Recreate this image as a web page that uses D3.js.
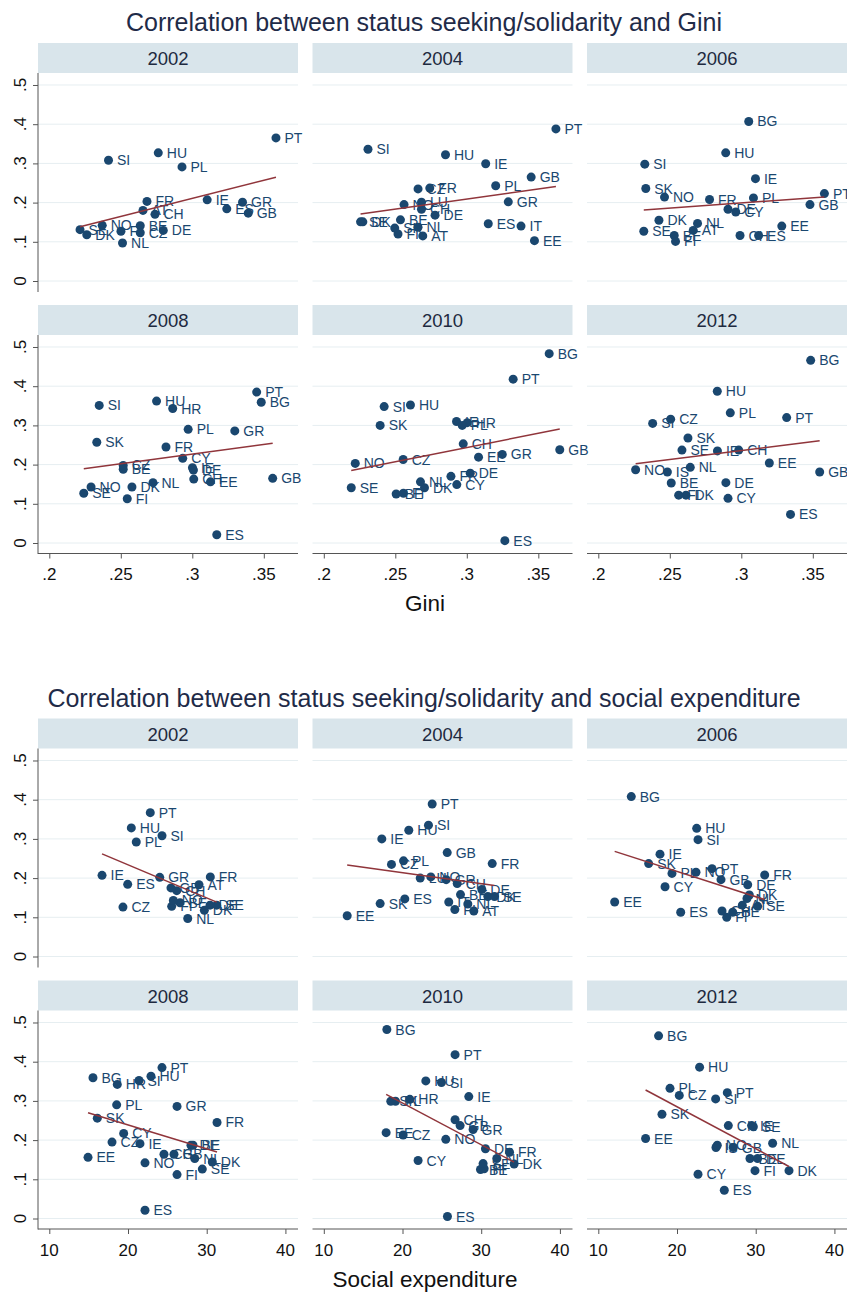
<!DOCTYPE html>
<html><head><meta charset="utf-8">
<script src="https://cdn.jsdelivr.net/npm/d3@7"></script>
<style>
body{margin:0;background:#fff}
text{font-family:"Liberation Sans",Arial,Helvetica,sans-serif}
</style>
</head><body>
<svg id="chart" width="847" height="1293"></svg>
<script>
// ---------- data ----------
const years = ["2002", "2004", "2006", "2008", "2010", "2012"];
const yTicks = [0, 0.1, 0.2, 0.3, 0.4, 0.5];
const yTickLabels = ["0", ".1", ".2", ".3", ".4", ".5"];
const giniTicks = [0.2, 0.25, 0.3, 0.35];
const giniTickLabels = [".2", ".25", ".3", ".35"];
const socxTicks = [10, 20, 30, 40];
const socxTickLabels = ["10", "20", "30", "40"];

// [country, Gini, status seeking/solidarity]
const gini2002 = [["PT",.3585,.365],["HU",.2762,.327],["SI",.2414,.308],["PL",.2928,.291],["FR",.2683,.203],
  ["IE",.3104,.207],["GR",.3351,.201],["ES",.3241,.184],["GB",.3391,.173],["AT",.2655,.180],["CH",.2739,.170],
  ["NO",.2370,.142],["SE",.2215,.131],["DK",.2262,.118],["FI",.2501,.127],["BE",.2636,.141],["CZ",.2636,.123],
  ["DE",.2797,.129],["NL",.2512,.097]];
const gini2004 = [["PT",.3623,.388],["SI",.2309,.336],["HU",.2851,.322],["IE",.3132,.299],["GB",.3450,.265],
  ["PL",.3202,.243],["CZ",.2659,.235],["FR",.2741,.237],["GR",.3290,.202],["NO",.2561,.195],["LU",.2683,.201],
  ["CH",.2683,.183],["DE",.2778,.168],["BE",.2536,.156],["SE",.2257,.151],["DK",.2273,.151],["ES",.3150,.146],
  ["IT",.3379,.140],["EE",.3473,.103],["SK",.2496,.135],["FI",.2519,.120],["NL",.2659,.137],["AT",.2692,.115]];
const gini2006 = [["BG",.3052,.407],["HU",.2891,.327],["SI",.2325,.298],["IE",.3099,.261],["SK",.2332,.236],
  ["NO",.2463,.214],["FR",.2778,.208],["PL",.3085,.212],["PT",.3581,.223],["GB",.3480,.195],["DE",.2907,.183],
  ["CY",.2961,.176],["DK",.2424,.155],["NL",.2694,.147],["SE",.2318,.127],["AT",.2664,.129],["EE",.3283,.140],
  ["BE",.2531,.116],["FI",.2540,.101],["CH",.2991,.116],["ES",.3121,.116]];
const gini2008 = [["PT",.3450,.385],["BG",.3482,.359],["SI",.2349,.351],["HU",.2750,.362],["HR",.2863,.343],
  ["PL",.2971,.290],["GR",.3297,.286],["SK",.2332,.257],["FR",.2816,.245],["CY",.2933,.216],["CZ",.2517,.198],
  ["BE",.2517,.188],["IE",.3001,.192],["DE",.3008,.186],["CH",.3010,.163],["EE",.3127,.156],["GB",.3562,.165],
  ["NL",.2725,.154],["NO",.2292,.143],["DK",.2578,.143],["SE",.2241,.127],["FI",.2545,.113],["ES",.3171,.021]];
const gini2010 = [["BG",.3576,.483],["PT",.3324,.418],["SI",.2422,.348],["HU",.2606,.352],["IE",.2928,.310],
  ["PL",.2968,.300],["HR",.3003,.307],["SK",.2394,.300],["CH",.2975,.253],["GR",.3248,.226],["EE",.3082,.219],
  ["GB",.3650,.238],["CZ",.2555,.213],["NO",.2220,.203],["DE",.3024,.178],["FR",.2889,.170],["CY",.2930,.149],
  ["NL",.2676,.156],["DK",.2704,.141],["SE",.2192,.141],["BE",.2506,.125],["FI",.2557,.127],["ES",.3266,.006]];
const gini2012 = [["BG",.3485,.466],["HU",.2832,.387],["PL",.2923,.332],["PT",.3317,.320],["CZ",.2506,.316],
  ["SI",.2380,.305],["SK",.2627,.268],["SE",.2585,.237],["IE",.2833,.235],["CH",.2982,.237],["EE",.3196,.204],
  ["NO",.2261,.187],["IS",.2483,.181],["NL",.2643,.193],["GB",.3548,.181],["BE",.2510,.153],["DE",.2892,.154],
  ["FI",.2562,.122],["DK",.2613,.122],["CY",.2907,.114],["ES",.3344,.073]];

// [country, social expenditure, status seeking/solidarity]
const socx2002 = [["PT",22.83,.367],["HU",20.42,.328],["SI",24.32,.308],["PL",21.05,.292],["IE",16.70,.207],
  ["FR",30.46,.203],["GR",24.03,.202],["ES",19.96,.184],["AT",29.02,.183],["GB",25.46,.175],["CH",26.19,.168],
  ["NO",25.76,.143],["BE",26.61,.137],["FI",25.55,.128],["CZ",19.36,.126],["NL",27.59,.097],["DK",29.70,.118],
  ["DE",30.42,.131],["SE",31.27,.131]];
const socx2004 = [["PT",23.77,.389],["SI",23.30,.335],["HU",20.80,.322],["IE",17.37,.300],["GB",25.68,.265],
  ["FR",31.40,.237],["PL",20.13,.244],["CZ",18.60,.235],["LU",22.25,.200],["NO",23.60,.203],["GR",25.55,.196],
  ["CH",26.95,.186],["DE",30.08,.171],["BE",27.37,.158],["DK",30.84,.153],["SE",31.69,.153],["ES",20.29,.147],
  ["EE",12.97,.104],["IT",25.88,.139],["NL",28.30,.134],["FI",26.65,.120],["AT",29.06,.116],["SK",17.16,.135]];
const socx2006 = [["BG",14.19,.408],["HU",22.50,.327],["SI",22.67,.298],["IE",17.84,.261],["SK",16.40,.237],
  ["PT",24.45,.224],["NO",22.41,.215],["PL",19.36,.212],["FR",31.14,.208],["GB",25.59,.196],["DE",28.98,.183],
  ["CY",18.48,.178],["EE",12.08,.139],["ES",20.47,.113],["DK",29.19,.157],["NL",28.89,.148],["AT",28.30,.131],
  ["SE",30.25,.128],["CH",25.72,.116],["BE",27.08,.113],["FI",26.32,.100]];
const socx2008 = [["PT",24.32,.385],["BG",15.55,.359],["HU",22.92,.363],["SI",21.40,.352],["HR",18.64,.342],
  ["PL",18.56,.290],["GR",26.23,.286],["SK",16.10,.256],["FR",31.31,.245],["CY",19.45,.217],["CZ",17.97,.195],
  ["IE",21.52,.191],["DE",28.00,.187],["BE",28.26,.187],["EE",14.92,.156],["CH",24.57,.164],["GB",25.84,.164],
  ["NL",28.48,.153],["NO",22.16,.142],["DK",30.71,.144],["SE",29.44,.126],["FI",26.23,.112],["ES",22.16,.021]];
const socx2010 = [["BG",18.01,.482],["PT",26.68,.418],["HU",22.96,.351],["SI",24.95,.347],["IE",28.42,.311],
  ["SK",18.51,.299],["PL",19.11,.299],["HR",20.93,.304],["CH",26.68,.252],["GB",27.32,.237],["GR",28.97,.227],
  ["EE",17.92,.219],["CZ",20.08,.213],["NO",25.50,.202],["DE",30.54,.178],["FR",33.60,.169],["NL",31.98,.153],
  ["DK",34.18,.139],["CY",21.98,.148],["SE",30.24,.140],["BE",29.91,.125],["FI",30.37,.127],["ES",25.71,.005]];
const socx2012 = [["BG",17.66,.466],["HU",22.87,.386],["PL",19.11,.332],["PT",26.39,.321],["CZ",20.29,.314],
  ["SI",24.91,.305],["SK",18.09,.266],["CH",26.52,.237],["IE",29.48,.237],["SE",29.70,.234],["NL",32.15,.192],
  ["EE",16.01,.204],["NO",25.12,.187],["IS",24.95,.181],["GB",27.15,.181],["BE",29.27,.153],["DE",30.24,.153],
  ["FI",29.91,.122],["DK",34.23,.122],["CY",22.67,.113],["ES",26.01,.072]];

const giniPanels = [gini2002, gini2004, gini2006, gini2008, gini2010, gini2012];
const socxPanels = [socx2002, socx2004, socx2006, socx2008, socx2010, socx2012];

// ---------- style ----------
const NAVY = "#1a476f", MAROON = "#90353b", STRIP = "#d9e5eb", GRID = "#e6eef1";
const svg = d3.select("#chart");

function fit(data) {
  const mx = d3.mean(data, d => d[1]), my = d3.mean(data, d => d[2]);
  let sxy = 0, sxx = 0;
  data.forEach(d => { sxy += (d[1]-mx)*(d[2]-my); sxx += (d[1]-mx)*(d[1]-mx); });
  const b = sxy / sxx, a = my - b*mx;
  const x0 = d3.min(data, d => d[1]), x1 = d3.max(data, d => d[1]);
  return [[x0, a + b*x0], [x1, a + b*x1]];
}

function drawFigure(offY, title, panels, xDomain, xTicks, xTickLabels, xTitle) {
  const g = svg.append("g").attr("transform", `translate(0,${offY})`);
  g.append("text").attr("x", 424).attr("y", 31).attr("text-anchor", "middle")
    .attr("font-size", 25).attr("fill", "#1f2b48").text(title);

  const W = 260, H = 218, headH = 30;
  const headTops = [43, 305];
  panels.forEach((data, i) => {
    const c = i % 3, r = Math.floor(i / 3);
    const left = 38 + 274.5 * c;
    const headTop = headTops[r];
    const top = headTop + headH;
    const x = d3.scaleLinear().domain(xDomain).range([left, left + W]);
    const y = d3.scaleLinear().domain([-0.0255, 0.5306]).range([top + H, top]);

    // strip
    g.append("rect").attr("x", left).attr("y", headTop).attr("width", W).attr("height", headH).attr("fill", STRIP);
    g.append("text").attr("x", left + W/2).attr("y", headTop + 22).attr("text-anchor", "middle")
      .attr("font-size", 18.5).attr("fill", "#1e2a40").text(years[i]);

    // grid
    g.append("g").selectAll("line").data(yTicks).join("line")
      .attr("x1", left).attr("x2", left + W)
      .attr("y1", d => y(d)).attr("y2", d => y(d))
      .attr("stroke", GRID).attr("stroke-width", 1);

    // y axis (first column only)
    if (c === 0) {
      const ya = g.append("g").attr("transform", `translate(${left},0)`)
        .call(d3.axisLeft(y).tickValues(yTicks).tickSize(5).tickFormat(() => ""));
      ya.select(".domain").attr("d", `M0,${top}V${top + H + 1}`).attr("stroke", "#555");
      ya.selectAll(".tick line").attr("stroke", "#555");
      g.append("g").selectAll("text").data(yTicks).join("text")
        .attr("transform", d => `translate(${left - 12},${y(d)}) rotate(-90)`)
        .attr("text-anchor", "middle").attr("font-size", 17).attr("fill", "#111")
        .text((d, k) => yTickLabels[k]);
    }
    // x axis (bottom row only)
    if (r === 1) {
      const xa = g.append("g").attr("transform", `translate(0,${top + H + 0.5})`)
        .call(d3.axisBottom(x).tickValues(xTicks).tickSize(5).tickFormat(() => ""));
      xa.select(".domain").attr("d", `M${left},0H${left + W}`).attr("stroke", "#555");
      xa.selectAll(".tick line").attr("stroke", "#555");
      g.append("g").selectAll("text").data(xTicks).join("text")
        .attr("x", d => x(d)).attr("y", top + H + 27).attr("text-anchor", "middle")
        .attr("font-size", 17).attr("fill", "#111").text((d, k) => xTickLabels[k]);
    }

    // points and labels (alphabetical drawing order)
    const sorted = data.slice().sort((a, b) => d3.ascending(a[0], b[0]));
    const pg = g.append("g");
    sorted.forEach(d => {
      pg.append("circle").attr("cx", x(d[1])).attr("cy", y(d[2])).attr("r", 4.5).attr("fill", NAVY);
      pg.append("text").attr("x", x(d[1]) + 8.5).attr("y", y(d[2])).attr("dy", "0.36em")
        .attr("font-size", 14).attr("fill", NAVY).text(d[0]);
    });

    // fitted line
    const f = fit(data);
    g.append("line").attr("x1", x(f[0][0])).attr("y1", y(f[0][1]))
      .attr("x2", x(f[1][0])).attr("y2", y(f[1][1]))
      .attr("stroke", MAROON).attr("stroke-width", 1.5);
  });

  g.append("text").attr("x", 425).attr("y", 611).attr("text-anchor", "middle")
    .attr("font-size", 22.5).attr("fill", "#111").text(xTitle);
}

drawFigure(0, "Correlation between status seeking/solidarity and Gini",
  giniPanels, [0.1921, 0.3739], giniTicks, giniTickLabels, "Gini");
drawFigure(675.5, "Correlation between status seeking/solidarity and social expenditure",
  socxPanels, [8.564, 41.60], socxTicks, socxTickLabels, "Social expenditure");
</script>
</body></html>
